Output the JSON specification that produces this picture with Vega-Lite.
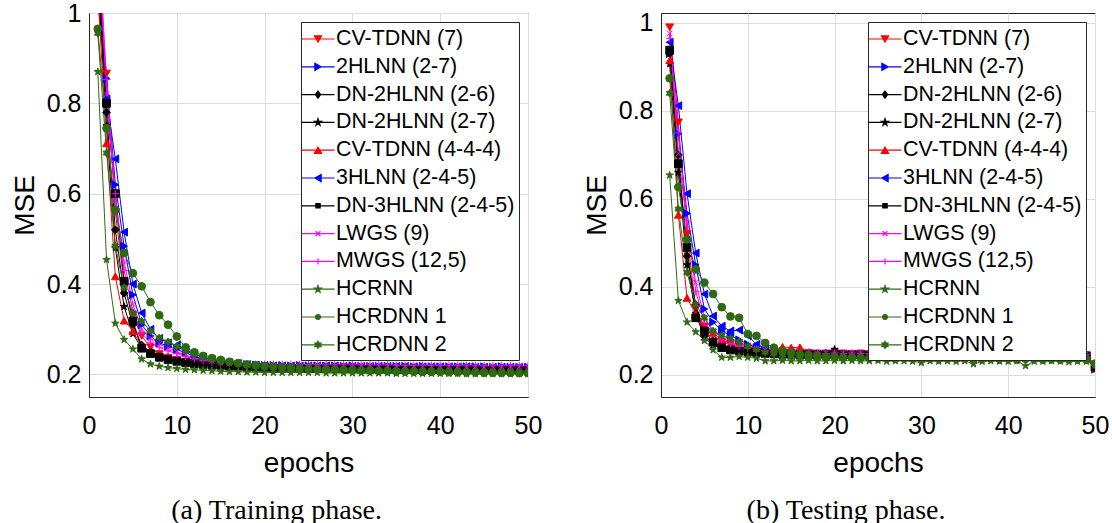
{
"$schema":"https://vega.github.io/schema/vega-lite/v6.json",
"background":"white",
"padding":{"left":10,"top":0,"right":0,"bottom":0},
"config":{
"view":{"stroke":"#262626","strokeWidth":1},
"axis":{"labelFont":"Liberation Sans","labelFontSize":25,"labelColor":"#000","titleFont":"Liberation Sans","titleFontSize":28,"titleFontWeight":"normal","titleColor":"#000","gridColor":"#dcdcdc","gridOpacity":1,"domainColor":"#262626","ticks":false},
"legend":{"title":null,"orient":"top-right","padding":4,"strokeColor":"#262626","fillColor":"white","labelFont":"Liberation Sans","labelFontSize":21.4,"labelColor":"#000","labelLimit":300,"labelOffset":5,"symbolSize":576,"symbolStrokeWidth":1.2,"symbolOpacity":1,"rowPadding":3.8}
},
"datasets":{
"train":[
{"m":"CV-TDNN (7)","e":1,"v":1.02},{"m":"CV-TDNN (7)","e":2,"v":0.866},{"m":"CV-TDNN (7)","e":3,"v":0.56},{"m":"CV-TDNN (7)","e":4,"v":0.4},{"m":"CV-TDNN (7)","e":5,"v":0.33},{"m":"CV-TDNN (7)","e":6,"v":0.285},{"m":"CV-TDNN (7)","e":7,"v":0.26},{"m":"CV-TDNN (7)","e":8,"v":0.245},{"m":"CV-TDNN (7)","e":9,"v":0.237},{"m":"CV-TDNN (7)","e":10,"v":0.232},
{"m":"CV-TDNN (7)","e":11,"v":0.228},{"m":"CV-TDNN (7)","e":12,"v":0.225},{"m":"CV-TDNN (7)","e":13,"v":0.222},{"m":"CV-TDNN (7)","e":14,"v":0.22},{"m":"CV-TDNN (7)","e":15,"v":0.218},{"m":"CV-TDNN (7)","e":16,"v":0.216},{"m":"CV-TDNN (7)","e":17,"v":0.215},{"m":"CV-TDNN (7)","e":18,"v":0.214},{"m":"CV-TDNN (7)","e":19,"v":0.213},{"m":"CV-TDNN (7)","e":20,"v":0.212},
{"m":"CV-TDNN (7)","e":21,"v":0.211},{"m":"CV-TDNN (7)","e":22,"v":0.211},{"m":"CV-TDNN (7)","e":23,"v":0.21},{"m":"CV-TDNN (7)","e":24,"v":0.21},{"m":"CV-TDNN (7)","e":25,"v":0.21},{"m":"CV-TDNN (7)","e":26,"v":0.21},{"m":"CV-TDNN (7)","e":27,"v":0.209},{"m":"CV-TDNN (7)","e":28,"v":0.209},{"m":"CV-TDNN (7)","e":29,"v":0.209},{"m":"CV-TDNN (7)","e":30,"v":0.209},
{"m":"CV-TDNN (7)","e":31,"v":0.209},{"m":"CV-TDNN (7)","e":32,"v":0.208},{"m":"CV-TDNN (7)","e":33,"v":0.208},{"m":"CV-TDNN (7)","e":34,"v":0.208},{"m":"CV-TDNN (7)","e":35,"v":0.208},{"m":"CV-TDNN (7)","e":36,"v":0.208},{"m":"CV-TDNN (7)","e":37,"v":0.208},{"m":"CV-TDNN (7)","e":38,"v":0.208},{"m":"CV-TDNN (7)","e":39,"v":0.207},{"m":"CV-TDNN (7)","e":40,"v":0.207},
{"m":"CV-TDNN (7)","e":41,"v":0.207},{"m":"CV-TDNN (7)","e":42,"v":0.207},{"m":"CV-TDNN (7)","e":43,"v":0.207},{"m":"CV-TDNN (7)","e":44,"v":0.207},{"m":"CV-TDNN (7)","e":45,"v":0.207},{"m":"CV-TDNN (7)","e":46,"v":0.207},{"m":"CV-TDNN (7)","e":47,"v":0.207},{"m":"CV-TDNN (7)","e":48,"v":0.206},{"m":"CV-TDNN (7)","e":49,"v":0.206},{"m":"CV-TDNN (7)","e":50,"v":0.206},
{"m":"2HLNN (2-7)","e":1,"v":1.1},{"m":"2HLNN (2-7)","e":2,"v":0.855},{"m":"2HLNN (2-7)","e":3,"v":0.62},{"m":"2HLNN (2-7)","e":4,"v":0.484},{"m":"2HLNN (2-7)","e":5,"v":0.376},{"m":"2HLNN (2-7)","e":6,"v":0.31},{"m":"2HLNN (2-7)","e":7,"v":0.285},{"m":"2HLNN (2-7)","e":8,"v":0.27},{"m":"2HLNN (2-7)","e":9,"v":0.262},{"m":"2HLNN (2-7)","e":10,"v":0.255},
{"m":"2HLNN (2-7)","e":11,"v":0.248},{"m":"2HLNN (2-7)","e":12,"v":0.24},{"m":"2HLNN (2-7)","e":13,"v":0.234},{"m":"2HLNN (2-7)","e":14,"v":0.23},{"m":"2HLNN (2-7)","e":15,"v":0.227},{"m":"2HLNN (2-7)","e":16,"v":0.225},{"m":"2HLNN (2-7)","e":17,"v":0.223},{"m":"2HLNN (2-7)","e":18,"v":0.222},{"m":"2HLNN (2-7)","e":19,"v":0.221},{"m":"2HLNN (2-7)","e":20,"v":0.22},
{"m":"2HLNN (2-7)","e":21,"v":0.22},{"m":"2HLNN (2-7)","e":22,"v":0.22},{"m":"2HLNN (2-7)","e":23,"v":0.219},{"m":"2HLNN (2-7)","e":24,"v":0.22},{"m":"2HLNN (2-7)","e":25,"v":0.219},{"m":"2HLNN (2-7)","e":26,"v":0.219},{"m":"2HLNN (2-7)","e":27,"v":0.219},{"m":"2HLNN (2-7)","e":28,"v":0.219},{"m":"2HLNN (2-7)","e":29,"v":0.218},{"m":"2HLNN (2-7)","e":30,"v":0.219},
{"m":"2HLNN (2-7)","e":31,"v":0.218},{"m":"2HLNN (2-7)","e":32,"v":0.218},{"m":"2HLNN (2-7)","e":33,"v":0.218},{"m":"2HLNN (2-7)","e":34,"v":0.218},{"m":"2HLNN (2-7)","e":35,"v":0.218},{"m":"2HLNN (2-7)","e":36,"v":0.218},{"m":"2HLNN (2-7)","e":37,"v":0.217},{"m":"2HLNN (2-7)","e":38,"v":0.218},{"m":"2HLNN (2-7)","e":39,"v":0.217},{"m":"2HLNN (2-7)","e":40,"v":0.217},
{"m":"2HLNN (2-7)","e":41,"v":0.217},{"m":"2HLNN (2-7)","e":42,"v":0.217},{"m":"2HLNN (2-7)","e":43,"v":0.217},{"m":"2HLNN (2-7)","e":44,"v":0.217},{"m":"2HLNN (2-7)","e":45,"v":0.217},{"m":"2HLNN (2-7)","e":46,"v":0.216},{"m":"2HLNN (2-7)","e":47,"v":0.217},{"m":"2HLNN (2-7)","e":48,"v":0.216},{"m":"2HLNN (2-7)","e":49,"v":0.216},{"m":"2HLNN (2-7)","e":50,"v":0.216},
{"m":"DN-2HLNN (2-6)","e":1,"v":1.1},{"m":"DN-2HLNN (2-6)","e":2,"v":0.78},{"m":"DN-2HLNN (2-6)","e":3,"v":0.52},{"m":"DN-2HLNN (2-6)","e":4,"v":0.38},{"m":"DN-2HLNN (2-6)","e":5,"v":0.31},{"m":"DN-2HLNN (2-6)","e":6,"v":0.265},{"m":"DN-2HLNN (2-6)","e":7,"v":0.25},{"m":"DN-2HLNN (2-6)","e":8,"v":0.24},{"m":"DN-2HLNN (2-6)","e":9,"v":0.234},{"m":"DN-2HLNN (2-6)","e":10,"v":0.23},
{"m":"DN-2HLNN (2-6)","e":11,"v":0.227},{"m":"DN-2HLNN (2-6)","e":12,"v":0.225},{"m":"DN-2HLNN (2-6)","e":13,"v":0.223},{"m":"DN-2HLNN (2-6)","e":14,"v":0.221},{"m":"DN-2HLNN (2-6)","e":15,"v":0.22},{"m":"DN-2HLNN (2-6)","e":16,"v":0.219},{"m":"DN-2HLNN (2-6)","e":17,"v":0.218},{"m":"DN-2HLNN (2-6)","e":18,"v":0.217},{"m":"DN-2HLNN (2-6)","e":19,"v":0.216},{"m":"DN-2HLNN (2-6)","e":20,"v":0.216},
{"m":"DN-2HLNN (2-6)","e":21,"v":0.215},{"m":"DN-2HLNN (2-6)","e":22,"v":0.215},{"m":"DN-2HLNN (2-6)","e":23,"v":0.215},{"m":"DN-2HLNN (2-6)","e":24,"v":0.215},{"m":"DN-2HLNN (2-6)","e":25,"v":0.215},{"m":"DN-2HLNN (2-6)","e":26,"v":0.214},{"m":"DN-2HLNN (2-6)","e":27,"v":0.214},{"m":"DN-2HLNN (2-6)","e":28,"v":0.214},{"m":"DN-2HLNN (2-6)","e":29,"v":0.214},{"m":"DN-2HLNN (2-6)","e":30,"v":0.214},
{"m":"DN-2HLNN (2-6)","e":31,"v":0.214},{"m":"DN-2HLNN (2-6)","e":32,"v":0.214},{"m":"DN-2HLNN (2-6)","e":33,"v":0.213},{"m":"DN-2HLNN (2-6)","e":34,"v":0.213},{"m":"DN-2HLNN (2-6)","e":35,"v":0.213},{"m":"DN-2HLNN (2-6)","e":36,"v":0.213},{"m":"DN-2HLNN (2-6)","e":37,"v":0.213},{"m":"DN-2HLNN (2-6)","e":38,"v":0.213},{"m":"DN-2HLNN (2-6)","e":39,"v":0.213},{"m":"DN-2HLNN (2-6)","e":40,"v":0.213},
{"m":"DN-2HLNN (2-6)","e":41,"v":0.213},{"m":"DN-2HLNN (2-6)","e":42,"v":0.212},{"m":"DN-2HLNN (2-6)","e":43,"v":0.212},{"m":"DN-2HLNN (2-6)","e":44,"v":0.212},{"m":"DN-2HLNN (2-6)","e":45,"v":0.212},{"m":"DN-2HLNN (2-6)","e":46,"v":0.212},{"m":"DN-2HLNN (2-6)","e":47,"v":0.212},{"m":"DN-2HLNN (2-6)","e":48,"v":0.212},{"m":"DN-2HLNN (2-6)","e":49,"v":0.212},{"m":"DN-2HLNN (2-6)","e":50,"v":0.212},
{"m":"DN-2HLNN (2-7)","e":1,"v":1.08},{"m":"DN-2HLNN (2-7)","e":2,"v":0.75},{"m":"DN-2HLNN (2-7)","e":3,"v":0.48},{"m":"DN-2HLNN (2-7)","e":4,"v":0.35},{"m":"DN-2HLNN (2-7)","e":5,"v":0.29},{"m":"DN-2HLNN (2-7)","e":6,"v":0.258},{"m":"DN-2HLNN (2-7)","e":7,"v":0.244},{"m":"DN-2HLNN (2-7)","e":8,"v":0.236},{"m":"DN-2HLNN (2-7)","e":9,"v":0.231},{"m":"DN-2HLNN (2-7)","e":10,"v":0.228},
{"m":"DN-2HLNN (2-7)","e":11,"v":0.225},{"m":"DN-2HLNN (2-7)","e":12,"v":0.223},{"m":"DN-2HLNN (2-7)","e":13,"v":0.221},{"m":"DN-2HLNN (2-7)","e":14,"v":0.22},{"m":"DN-2HLNN (2-7)","e":15,"v":0.219},{"m":"DN-2HLNN (2-7)","e":16,"v":0.218},{"m":"DN-2HLNN (2-7)","e":17,"v":0.217},{"m":"DN-2HLNN (2-7)","e":18,"v":0.216},{"m":"DN-2HLNN (2-7)","e":19,"v":0.215},{"m":"DN-2HLNN (2-7)","e":20,"v":0.215},
{"m":"DN-2HLNN (2-7)","e":21,"v":0.214},{"m":"DN-2HLNN (2-7)","e":22,"v":0.214},{"m":"DN-2HLNN (2-7)","e":23,"v":0.214},{"m":"DN-2HLNN (2-7)","e":24,"v":0.214},{"m":"DN-2HLNN (2-7)","e":25,"v":0.214},{"m":"DN-2HLNN (2-7)","e":26,"v":0.214},{"m":"DN-2HLNN (2-7)","e":27,"v":0.213},{"m":"DN-2HLNN (2-7)","e":28,"v":0.213},{"m":"DN-2HLNN (2-7)","e":29,"v":0.213},{"m":"DN-2HLNN (2-7)","e":30,"v":0.213},
{"m":"DN-2HLNN (2-7)","e":31,"v":0.213},{"m":"DN-2HLNN (2-7)","e":32,"v":0.213},{"m":"DN-2HLNN (2-7)","e":33,"v":0.213},{"m":"DN-2HLNN (2-7)","e":34,"v":0.213},{"m":"DN-2HLNN (2-7)","e":35,"v":0.212},{"m":"DN-2HLNN (2-7)","e":36,"v":0.212},{"m":"DN-2HLNN (2-7)","e":37,"v":0.212},{"m":"DN-2HLNN (2-7)","e":38,"v":0.212},{"m":"DN-2HLNN (2-7)","e":39,"v":0.212},{"m":"DN-2HLNN (2-7)","e":40,"v":0.212},
{"m":"DN-2HLNN (2-7)","e":41,"v":0.212},{"m":"DN-2HLNN (2-7)","e":42,"v":0.212},{"m":"DN-2HLNN (2-7)","e":43,"v":0.211},{"m":"DN-2HLNN (2-7)","e":44,"v":0.211},{"m":"DN-2HLNN (2-7)","e":45,"v":0.211},{"m":"DN-2HLNN (2-7)","e":46,"v":0.211},{"m":"DN-2HLNN (2-7)","e":47,"v":0.211},{"m":"DN-2HLNN (2-7)","e":48,"v":0.211},{"m":"DN-2HLNN (2-7)","e":49,"v":0.211},{"m":"DN-2HLNN (2-7)","e":50,"v":0.211},
{"m":"CV-TDNN (4-4-4)","e":1,"v":1.05},{"m":"CV-TDNN (4-4-4)","e":2,"v":0.712},{"m":"CV-TDNN (4-4-4)","e":3,"v":0.417},{"m":"CV-TDNN (4-4-4)","e":4,"v":0.319},{"m":"CV-TDNN (4-4-4)","e":5,"v":0.296},{"m":"CV-TDNN (4-4-4)","e":6,"v":0.262},{"m":"CV-TDNN (4-4-4)","e":7,"v":0.25},{"m":"CV-TDNN (4-4-4)","e":8,"v":0.244},{"m":"CV-TDNN (4-4-4)","e":9,"v":0.24},{"m":"CV-TDNN (4-4-4)","e":10,"v":0.236},
{"m":"CV-TDNN (4-4-4)","e":11,"v":0.232},{"m":"CV-TDNN (4-4-4)","e":12,"v":0.229},{"m":"CV-TDNN (4-4-4)","e":13,"v":0.226},{"m":"CV-TDNN (4-4-4)","e":14,"v":0.224},{"m":"CV-TDNN (4-4-4)","e":15,"v":0.222},{"m":"CV-TDNN (4-4-4)","e":16,"v":0.22},{"m":"CV-TDNN (4-4-4)","e":17,"v":0.219},{"m":"CV-TDNN (4-4-4)","e":18,"v":0.218},{"m":"CV-TDNN (4-4-4)","e":19,"v":0.217},{"m":"CV-TDNN (4-4-4)","e":20,"v":0.217},
{"m":"CV-TDNN (4-4-4)","e":21,"v":0.216},{"m":"CV-TDNN (4-4-4)","e":22,"v":0.216},{"m":"CV-TDNN (4-4-4)","e":23,"v":0.216},{"m":"CV-TDNN (4-4-4)","e":24,"v":0.216},{"m":"CV-TDNN (4-4-4)","e":25,"v":0.216},{"m":"CV-TDNN (4-4-4)","e":26,"v":0.216},{"m":"CV-TDNN (4-4-4)","e":27,"v":0.216},{"m":"CV-TDNN (4-4-4)","e":28,"v":0.216},{"m":"CV-TDNN (4-4-4)","e":29,"v":0.215},{"m":"CV-TDNN (4-4-4)","e":30,"v":0.215},
{"m":"CV-TDNN (4-4-4)","e":31,"v":0.215},{"m":"CV-TDNN (4-4-4)","e":32,"v":0.215},{"m":"CV-TDNN (4-4-4)","e":33,"v":0.215},{"m":"CV-TDNN (4-4-4)","e":34,"v":0.215},{"m":"CV-TDNN (4-4-4)","e":35,"v":0.215},{"m":"CV-TDNN (4-4-4)","e":36,"v":0.215},{"m":"CV-TDNN (4-4-4)","e":37,"v":0.214},{"m":"CV-TDNN (4-4-4)","e":38,"v":0.214},{"m":"CV-TDNN (4-4-4)","e":39,"v":0.214},{"m":"CV-TDNN (4-4-4)","e":40,"v":0.214},
{"m":"CV-TDNN (4-4-4)","e":41,"v":0.214},{"m":"CV-TDNN (4-4-4)","e":42,"v":0.214},{"m":"CV-TDNN (4-4-4)","e":43,"v":0.214},{"m":"CV-TDNN (4-4-4)","e":44,"v":0.213},{"m":"CV-TDNN (4-4-4)","e":45,"v":0.213},{"m":"CV-TDNN (4-4-4)","e":46,"v":0.213},{"m":"CV-TDNN (4-4-4)","e":47,"v":0.213},{"m":"CV-TDNN (4-4-4)","e":48,"v":0.213},{"m":"CV-TDNN (4-4-4)","e":49,"v":0.213},{"m":"CV-TDNN (4-4-4)","e":50,"v":0.213},
{"m":"3HLNN (2-4-5)","e":1,"v":1.15},{"m":"3HLNN (2-4-5)","e":2,"v":0.81},{"m":"3HLNN (2-4-5)","e":3,"v":0.677},{"m":"3HLNN (2-4-5)","e":4,"v":0.515},{"m":"3HLNN (2-4-5)","e":5,"v":0.4},{"m":"3HLNN (2-4-5)","e":6,"v":0.336},{"m":"3HLNN (2-4-5)","e":7,"v":0.3},{"m":"3HLNN (2-4-5)","e":8,"v":0.28},{"m":"3HLNN (2-4-5)","e":9,"v":0.27},{"m":"3HLNN (2-4-5)","e":10,"v":0.265},
{"m":"3HLNN (2-4-5)","e":11,"v":0.255},{"m":"3HLNN (2-4-5)","e":12,"v":0.245},{"m":"3HLNN (2-4-5)","e":13,"v":0.238},{"m":"3HLNN (2-4-5)","e":14,"v":0.233},{"m":"3HLNN (2-4-5)","e":15,"v":0.229},{"m":"3HLNN (2-4-5)","e":16,"v":0.226},{"m":"3HLNN (2-4-5)","e":17,"v":0.224},{"m":"3HLNN (2-4-5)","e":18,"v":0.222},{"m":"3HLNN (2-4-5)","e":19,"v":0.221},{"m":"3HLNN (2-4-5)","e":20,"v":0.22},
{"m":"3HLNN (2-4-5)","e":21,"v":0.219},{"m":"3HLNN (2-4-5)","e":22,"v":0.219},{"m":"3HLNN (2-4-5)","e":23,"v":0.219},{"m":"3HLNN (2-4-5)","e":24,"v":0.219},{"m":"3HLNN (2-4-5)","e":25,"v":0.219},{"m":"3HLNN (2-4-5)","e":26,"v":0.219},{"m":"3HLNN (2-4-5)","e":27,"v":0.219},{"m":"3HLNN (2-4-5)","e":28,"v":0.219},{"m":"3HLNN (2-4-5)","e":29,"v":0.218},{"m":"3HLNN (2-4-5)","e":30,"v":0.218},
{"m":"3HLNN (2-4-5)","e":31,"v":0.218},{"m":"3HLNN (2-4-5)","e":32,"v":0.218},{"m":"3HLNN (2-4-5)","e":33,"v":0.218},{"m":"3HLNN (2-4-5)","e":34,"v":0.218},{"m":"3HLNN (2-4-5)","e":35,"v":0.218},{"m":"3HLNN (2-4-5)","e":36,"v":0.218},{"m":"3HLNN (2-4-5)","e":37,"v":0.217},{"m":"3HLNN (2-4-5)","e":38,"v":0.217},{"m":"3HLNN (2-4-5)","e":39,"v":0.217},{"m":"3HLNN (2-4-5)","e":40,"v":0.217},
{"m":"3HLNN (2-4-5)","e":41,"v":0.217},{"m":"3HLNN (2-4-5)","e":42,"v":0.217},{"m":"3HLNN (2-4-5)","e":43,"v":0.217},{"m":"3HLNN (2-4-5)","e":44,"v":0.216},{"m":"3HLNN (2-4-5)","e":45,"v":0.216},{"m":"3HLNN (2-4-5)","e":46,"v":0.216},{"m":"3HLNN (2-4-5)","e":47,"v":0.216},{"m":"3HLNN (2-4-5)","e":48,"v":0.216},{"m":"3HLNN (2-4-5)","e":49,"v":0.216},{"m":"3HLNN (2-4-5)","e":50,"v":0.216},
{"m":"DN-3HLNN (2-4-5)","e":1,"v":1.12},{"m":"DN-3HLNN (2-4-5)","e":2,"v":0.8},{"m":"DN-3HLNN (2-4-5)","e":3,"v":0.6},{"m":"DN-3HLNN (2-4-5)","e":4,"v":0.406},{"m":"DN-3HLNN (2-4-5)","e":5,"v":0.318},{"m":"DN-3HLNN (2-4-5)","e":6,"v":0.258},{"m":"DN-3HLNN (2-4-5)","e":7,"v":0.246},{"m":"DN-3HLNN (2-4-5)","e":8,"v":0.238},{"m":"DN-3HLNN (2-4-5)","e":9,"v":0.233},{"m":"DN-3HLNN (2-4-5)","e":10,"v":0.229},
{"m":"DN-3HLNN (2-4-5)","e":11,"v":0.226},{"m":"DN-3HLNN (2-4-5)","e":12,"v":0.224},{"m":"DN-3HLNN (2-4-5)","e":13,"v":0.222},{"m":"DN-3HLNN (2-4-5)","e":14,"v":0.221},{"m":"DN-3HLNN (2-4-5)","e":15,"v":0.22},{"m":"DN-3HLNN (2-4-5)","e":16,"v":0.218},{"m":"DN-3HLNN (2-4-5)","e":17,"v":0.217},{"m":"DN-3HLNN (2-4-5)","e":18,"v":0.216},{"m":"DN-3HLNN (2-4-5)","e":19,"v":0.215},{"m":"DN-3HLNN (2-4-5)","e":20,"v":0.215},
{"m":"DN-3HLNN (2-4-5)","e":21,"v":0.214},{"m":"DN-3HLNN (2-4-5)","e":22,"v":0.214},{"m":"DN-3HLNN (2-4-5)","e":23,"v":0.214},{"m":"DN-3HLNN (2-4-5)","e":24,"v":0.214},{"m":"DN-3HLNN (2-4-5)","e":25,"v":0.213},{"m":"DN-3HLNN (2-4-5)","e":26,"v":0.213},{"m":"DN-3HLNN (2-4-5)","e":27,"v":0.213},{"m":"DN-3HLNN (2-4-5)","e":28,"v":0.213},{"m":"DN-3HLNN (2-4-5)","e":29,"v":0.213},{"m":"DN-3HLNN (2-4-5)","e":30,"v":0.213},
{"m":"DN-3HLNN (2-4-5)","e":31,"v":0.212},{"m":"DN-3HLNN (2-4-5)","e":32,"v":0.212},{"m":"DN-3HLNN (2-4-5)","e":33,"v":0.212},{"m":"DN-3HLNN (2-4-5)","e":34,"v":0.212},{"m":"DN-3HLNN (2-4-5)","e":35,"v":0.212},{"m":"DN-3HLNN (2-4-5)","e":36,"v":0.212},{"m":"DN-3HLNN (2-4-5)","e":37,"v":0.212},{"m":"DN-3HLNN (2-4-5)","e":38,"v":0.211},{"m":"DN-3HLNN (2-4-5)","e":39,"v":0.211},{"m":"DN-3HLNN (2-4-5)","e":40,"v":0.211},
{"m":"DN-3HLNN (2-4-5)","e":41,"v":0.211},{"m":"DN-3HLNN (2-4-5)","e":42,"v":0.211},{"m":"DN-3HLNN (2-4-5)","e":43,"v":0.211},{"m":"DN-3HLNN (2-4-5)","e":44,"v":0.211},{"m":"DN-3HLNN (2-4-5)","e":45,"v":0.21},{"m":"DN-3HLNN (2-4-5)","e":46,"v":0.21},{"m":"DN-3HLNN (2-4-5)","e":47,"v":0.21},{"m":"DN-3HLNN (2-4-5)","e":48,"v":0.21},{"m":"DN-3HLNN (2-4-5)","e":49,"v":0.21},{"m":"DN-3HLNN (2-4-5)","e":50,"v":0.21},
{"m":"LWGS (9)","e":1,"v":1.17},{"m":"LWGS (9)","e":2,"v":0.82},{"m":"LWGS (9)","e":3,"v":0.585},{"m":"LWGS (9)","e":4,"v":0.45},{"m":"LWGS (9)","e":5,"v":0.355},{"m":"LWGS (9)","e":6,"v":0.3},{"m":"LWGS (9)","e":7,"v":0.28},{"m":"LWGS (9)","e":8,"v":0.268},{"m":"LWGS (9)","e":9,"v":0.258},{"m":"LWGS (9)","e":10,"v":0.25},
{"m":"LWGS (9)","e":11,"v":0.243},{"m":"LWGS (9)","e":12,"v":0.237},{"m":"LWGS (9)","e":13,"v":0.233},{"m":"LWGS (9)","e":14,"v":0.229},{"m":"LWGS (9)","e":15,"v":0.226},{"m":"LWGS (9)","e":16,"v":0.224},{"m":"LWGS (9)","e":17,"v":0.223},{"m":"LWGS (9)","e":18,"v":0.222},{"m":"LWGS (9)","e":19,"v":0.221},{"m":"LWGS (9)","e":20,"v":0.22},
{"m":"LWGS (9)","e":21,"v":0.22},{"m":"LWGS (9)","e":22,"v":0.22},{"m":"LWGS (9)","e":23,"v":0.22},{"m":"LWGS (9)","e":24,"v":0.22},{"m":"LWGS (9)","e":25,"v":0.22},{"m":"LWGS (9)","e":26,"v":0.22},{"m":"LWGS (9)","e":27,"v":0.219},{"m":"LWGS (9)","e":28,"v":0.219},{"m":"LWGS (9)","e":29,"v":0.219},{"m":"LWGS (9)","e":30,"v":0.219},
{"m":"LWGS (9)","e":31,"v":0.219},{"m":"LWGS (9)","e":32,"v":0.219},{"m":"LWGS (9)","e":33,"v":0.219},{"m":"LWGS (9)","e":34,"v":0.219},{"m":"LWGS (9)","e":35,"v":0.218},{"m":"LWGS (9)","e":36,"v":0.218},{"m":"LWGS (9)","e":37,"v":0.218},{"m":"LWGS (9)","e":38,"v":0.218},{"m":"LWGS (9)","e":39,"v":0.218},{"m":"LWGS (9)","e":40,"v":0.218},
{"m":"LWGS (9)","e":41,"v":0.218},{"m":"LWGS (9)","e":42,"v":0.218},{"m":"LWGS (9)","e":43,"v":0.217},{"m":"LWGS (9)","e":44,"v":0.217},{"m":"LWGS (9)","e":45,"v":0.217},{"m":"LWGS (9)","e":46,"v":0.217},{"m":"LWGS (9)","e":47,"v":0.217},{"m":"LWGS (9)","e":48,"v":0.217},{"m":"LWGS (9)","e":49,"v":0.217},{"m":"LWGS (9)","e":50,"v":0.217},
{"m":"MWGS (12,5)","e":1,"v":1.2},{"m":"MWGS (12,5)","e":2,"v":0.853},{"m":"MWGS (12,5)","e":3,"v":0.6},{"m":"MWGS (12,5)","e":4,"v":0.43},{"m":"MWGS (12,5)","e":5,"v":0.34},{"m":"MWGS (12,5)","e":6,"v":0.29},{"m":"MWGS (12,5)","e":7,"v":0.27},{"m":"MWGS (12,5)","e":8,"v":0.26},{"m":"MWGS (12,5)","e":9,"v":0.252},{"m":"MWGS (12,5)","e":10,"v":0.246},
{"m":"MWGS (12,5)","e":11,"v":0.24},{"m":"MWGS (12,5)","e":12,"v":0.235},{"m":"MWGS (12,5)","e":13,"v":0.231},{"m":"MWGS (12,5)","e":14,"v":0.228},{"m":"MWGS (12,5)","e":15,"v":0.226},{"m":"MWGS (12,5)","e":16,"v":0.225},{"m":"MWGS (12,5)","e":17,"v":0.224},{"m":"MWGS (12,5)","e":18,"v":0.223},{"m":"MWGS (12,5)","e":19,"v":0.222},{"m":"MWGS (12,5)","e":20,"v":0.222},
{"m":"MWGS (12,5)","e":21,"v":0.222},{"m":"MWGS (12,5)","e":22,"v":0.222},{"m":"MWGS (12,5)","e":23,"v":0.222},{"m":"MWGS (12,5)","e":24,"v":0.222},{"m":"MWGS (12,5)","e":25,"v":0.222},{"m":"MWGS (12,5)","e":26,"v":0.222},{"m":"MWGS (12,5)","e":27,"v":0.221},{"m":"MWGS (12,5)","e":28,"v":0.221},{"m":"MWGS (12,5)","e":29,"v":0.221},{"m":"MWGS (12,5)","e":30,"v":0.221},
{"m":"MWGS (12,5)","e":31,"v":0.221},{"m":"MWGS (12,5)","e":32,"v":0.221},{"m":"MWGS (12,5)","e":33,"v":0.221},{"m":"MWGS (12,5)","e":34,"v":0.221},{"m":"MWGS (12,5)","e":35,"v":0.22},{"m":"MWGS (12,5)","e":36,"v":0.22},{"m":"MWGS (12,5)","e":37,"v":0.22},{"m":"MWGS (12,5)","e":38,"v":0.22},{"m":"MWGS (12,5)","e":39,"v":0.22},{"m":"MWGS (12,5)","e":40,"v":0.22},
{"m":"MWGS (12,5)","e":41,"v":0.22},{"m":"MWGS (12,5)","e":42,"v":0.22},{"m":"MWGS (12,5)","e":43,"v":0.219},{"m":"MWGS (12,5)","e":44,"v":0.219},{"m":"MWGS (12,5)","e":45,"v":0.219},{"m":"MWGS (12,5)","e":46,"v":0.219},{"m":"MWGS (12,5)","e":47,"v":0.219},{"m":"MWGS (12,5)","e":48,"v":0.219},{"m":"MWGS (12,5)","e":49,"v":0.219},{"m":"MWGS (12,5)","e":50,"v":0.219},
{"m":"HCRNN","e":1,"v":0.87},{"m":"HCRNN","e":2,"v":0.454},{"m":"HCRNN","e":3,"v":0.313},{"m":"HCRNN","e":4,"v":0.277},{"m":"HCRNN","e":5,"v":0.256},{"m":"HCRNN","e":6,"v":0.234},{"m":"HCRNN","e":7,"v":0.223},{"m":"HCRNN","e":8,"v":0.218},{"m":"HCRNN","e":9,"v":0.215},{"m":"HCRNN","e":10,"v":0.213},
{"m":"HCRNN","e":11,"v":0.211},{"m":"HCRNN","e":12,"v":0.21},{"m":"HCRNN","e":13,"v":0.209},{"m":"HCRNN","e":14,"v":0.208},{"m":"HCRNN","e":15,"v":0.207},{"m":"HCRNN","e":16,"v":0.206},{"m":"HCRNN","e":17,"v":0.206},{"m":"HCRNN","e":18,"v":0.205},{"m":"HCRNN","e":19,"v":0.205},{"m":"HCRNN","e":20,"v":0.204},
{"m":"HCRNN","e":21,"v":0.204},{"m":"HCRNN","e":22,"v":0.204},{"m":"HCRNN","e":23,"v":0.204},{"m":"HCRNN","e":24,"v":0.204},{"m":"HCRNN","e":25,"v":0.204},{"m":"HCRNN","e":26,"v":0.204},{"m":"HCRNN","e":27,"v":0.203},{"m":"HCRNN","e":28,"v":0.203},{"m":"HCRNN","e":29,"v":0.203},{"m":"HCRNN","e":30,"v":0.203},
{"m":"HCRNN","e":31,"v":0.203},{"m":"HCRNN","e":32,"v":0.203},{"m":"HCRNN","e":33,"v":0.203},{"m":"HCRNN","e":34,"v":0.203},{"m":"HCRNN","e":35,"v":0.202},{"m":"HCRNN","e":36,"v":0.202},{"m":"HCRNN","e":37,"v":0.202},{"m":"HCRNN","e":38,"v":0.202},{"m":"HCRNN","e":39,"v":0.202},{"m":"HCRNN","e":40,"v":0.202},
{"m":"HCRNN","e":41,"v":0.202},{"m":"HCRNN","e":42,"v":0.202},{"m":"HCRNN","e":43,"v":0.201},{"m":"HCRNN","e":44,"v":0.201},{"m":"HCRNN","e":45,"v":0.201},{"m":"HCRNN","e":46,"v":0.201},{"m":"HCRNN","e":47,"v":0.201},{"m":"HCRNN","e":48,"v":0.201},{"m":"HCRNN","e":49,"v":0.201},{"m":"HCRNN","e":50,"v":0.201},
{"m":"HCRDNN 1","e":1,"v":0.965},{"m":"HCRDNN 1","e":2,"v":0.745},{"m":"HCRDNN 1","e":3,"v":0.564},{"m":"HCRDNN 1","e":4,"v":0.469},{"m":"HCRDNN 1","e":5,"v":0.424},{"m":"HCRDNN 1","e":6,"v":0.395},{"m":"HCRDNN 1","e":7,"v":0.36},{"m":"HCRDNN 1","e":8,"v":0.331},{"m":"HCRDNN 1","e":9,"v":0.31},{"m":"HCRDNN 1","e":10,"v":0.284},
{"m":"HCRDNN 1","e":11,"v":0.26},{"m":"HCRDNN 1","e":12,"v":0.249},{"m":"HCRDNN 1","e":13,"v":0.241},{"m":"HCRDNN 1","e":14,"v":0.236},{"m":"HCRDNN 1","e":15,"v":0.232},{"m":"HCRDNN 1","e":16,"v":0.228},{"m":"HCRDNN 1","e":17,"v":0.225},{"m":"HCRDNN 1","e":18,"v":0.222},{"m":"HCRDNN 1","e":19,"v":0.22},{"m":"HCRDNN 1","e":20,"v":0.218},
{"m":"HCRDNN 1","e":21,"v":0.217},{"m":"HCRDNN 1","e":22,"v":0.216},{"m":"HCRDNN 1","e":23,"v":0.215},{"m":"HCRDNN 1","e":24,"v":0.214},{"m":"HCRDNN 1","e":25,"v":0.213},{"m":"HCRDNN 1","e":26,"v":0.212},{"m":"HCRDNN 1","e":27,"v":0.211},{"m":"HCRDNN 1","e":28,"v":0.211},{"m":"HCRDNN 1","e":29,"v":0.21},{"m":"HCRDNN 1","e":30,"v":0.21},
{"m":"HCRDNN 1","e":31,"v":0.209},{"m":"HCRDNN 1","e":32,"v":0.209},{"m":"HCRDNN 1","e":33,"v":0.208},{"m":"HCRDNN 1","e":34,"v":0.208},{"m":"HCRDNN 1","e":35,"v":0.207},{"m":"HCRDNN 1","e":36,"v":0.207},{"m":"HCRDNN 1","e":37,"v":0.207},{"m":"HCRDNN 1","e":38,"v":0.206},{"m":"HCRDNN 1","e":39,"v":0.206},{"m":"HCRDNN 1","e":40,"v":0.206},
{"m":"HCRDNN 1","e":41,"v":0.205},{"m":"HCRDNN 1","e":42,"v":0.205},{"m":"HCRDNN 1","e":43,"v":0.205},{"m":"HCRDNN 1","e":44,"v":0.205},{"m":"HCRDNN 1","e":45,"v":0.204},{"m":"HCRDNN 1","e":46,"v":0.204},{"m":"HCRDNN 1","e":47,"v":0.204},{"m":"HCRDNN 1","e":48,"v":0.204},{"m":"HCRDNN 1","e":49,"v":0.203},{"m":"HCRDNN 1","e":50,"v":0.203},
{"m":"HCRDNN 2","e":1,"v":0.955},{"m":"HCRDNN 2","e":2,"v":0.69},{"m":"HCRDNN 2","e":3,"v":0.484},{"m":"HCRDNN 2","e":4,"v":0.392},{"m":"HCRDNN 2","e":5,"v":0.336},{"m":"HCRDNN 2","e":6,"v":0.318},{"m":"HCRDNN 2","e":7,"v":0.296},{"m":"HCRDNN 2","e":8,"v":0.281},{"m":"HCRDNN 2","e":9,"v":0.272},{"m":"HCRDNN 2","e":10,"v":0.262},
{"m":"HCRDNN 2","e":11,"v":0.252},{"m":"HCRDNN 2","e":12,"v":0.244},{"m":"HCRDNN 2","e":13,"v":0.238},{"m":"HCRDNN 2","e":14,"v":0.233},{"m":"HCRDNN 2","e":15,"v":0.229},{"m":"HCRDNN 2","e":16,"v":0.226},{"m":"HCRDNN 2","e":17,"v":0.223},{"m":"HCRDNN 2","e":18,"v":0.22},{"m":"HCRDNN 2","e":19,"v":0.218},{"m":"HCRDNN 2","e":20,"v":0.216},
{"m":"HCRDNN 2","e":21,"v":0.215},{"m":"HCRDNN 2","e":22,"v":0.214},{"m":"HCRDNN 2","e":23,"v":0.213},{"m":"HCRDNN 2","e":24,"v":0.212},{"m":"HCRDNN 2","e":25,"v":0.211},{"m":"HCRDNN 2","e":26,"v":0.21},{"m":"HCRDNN 2","e":27,"v":0.21},{"m":"HCRDNN 2","e":28,"v":0.209},{"m":"HCRDNN 2","e":29,"v":0.209},{"m":"HCRDNN 2","e":30,"v":0.208},
{"m":"HCRDNN 2","e":31,"v":0.208},{"m":"HCRDNN 2","e":32,"v":0.207},{"m":"HCRDNN 2","e":33,"v":0.207},{"m":"HCRDNN 2","e":34,"v":0.207},{"m":"HCRDNN 2","e":35,"v":0.206},{"m":"HCRDNN 2","e":36,"v":0.206},{"m":"HCRDNN 2","e":37,"v":0.206},{"m":"HCRDNN 2","e":38,"v":0.205},{"m":"HCRDNN 2","e":39,"v":0.205},{"m":"HCRDNN 2","e":40,"v":0.205},
{"m":"HCRDNN 2","e":41,"v":0.205},{"m":"HCRDNN 2","e":42,"v":0.204},{"m":"HCRDNN 2","e":43,"v":0.204},{"m":"HCRDNN 2","e":44,"v":0.204},{"m":"HCRDNN 2","e":45,"v":0.204},{"m":"HCRDNN 2","e":46,"v":0.203},{"m":"HCRDNN 2","e":47,"v":0.203},{"m":"HCRDNN 2","e":48,"v":0.203},{"m":"HCRDNN 2","e":49,"v":0.203},{"m":"HCRDNN 2","e":50,"v":0.203}
],
"test":[
{"m":"CV-TDNN (7)","e":1,"v":0.99},{"m":"CV-TDNN (7)","e":2,"v":0.774},{"m":"CV-TDNN (7)","e":3,"v":0.52},{"m":"CV-TDNN (7)","e":4,"v":0.35},{"m":"CV-TDNN (7)","e":5,"v":0.31},{"m":"CV-TDNN (7)","e":6,"v":0.29},{"m":"CV-TDNN (7)","e":7,"v":0.275},{"m":"CV-TDNN (7)","e":8,"v":0.27},{"m":"CV-TDNN (7)","e":9,"v":0.265},{"m":"CV-TDNN (7)","e":10,"v":0.26},
{"m":"CV-TDNN (7)","e":11,"v":0.257},{"m":"CV-TDNN (7)","e":12,"v":0.255},{"m":"CV-TDNN (7)","e":13,"v":0.253},{"m":"CV-TDNN (7)","e":14,"v":0.252},{"m":"CV-TDNN (7)","e":15,"v":0.251},{"m":"CV-TDNN (7)","e":16,"v":0.25},{"m":"CV-TDNN (7)","e":17,"v":0.25},{"m":"CV-TDNN (7)","e":18,"v":0.249},{"m":"CV-TDNN (7)","e":19,"v":0.249},{"m":"CV-TDNN (7)","e":20,"v":0.25},
{"m":"CV-TDNN (7)","e":21,"v":0.249},{"m":"CV-TDNN (7)","e":22,"v":0.248},{"m":"CV-TDNN (7)","e":23,"v":0.249},{"m":"CV-TDNN (7)","e":24,"v":0.248},{"m":"CV-TDNN (7)","e":25,"v":0.249},{"m":"CV-TDNN (7)","e":26,"v":0.248},{"m":"CV-TDNN (7)","e":27,"v":0.248},{"m":"CV-TDNN (7)","e":28,"v":0.249},{"m":"CV-TDNN (7)","e":29,"v":0.247},{"m":"CV-TDNN (7)","e":30,"v":0.248},
{"m":"CV-TDNN (7)","e":31,"v":0.247},{"m":"CV-TDNN (7)","e":32,"v":0.248},{"m":"CV-TDNN (7)","e":33,"v":0.247},{"m":"CV-TDNN (7)","e":34,"v":0.247},{"m":"CV-TDNN (7)","e":35,"v":0.248},{"m":"CV-TDNN (7)","e":36,"v":0.246},{"m":"CV-TDNN (7)","e":37,"v":0.247},{"m":"CV-TDNN (7)","e":38,"v":0.247},{"m":"CV-TDNN (7)","e":39,"v":0.246},{"m":"CV-TDNN (7)","e":40,"v":0.247},
{"m":"CV-TDNN (7)","e":41,"v":0.246},{"m":"CV-TDNN (7)","e":42,"v":0.247},{"m":"CV-TDNN (7)","e":43,"v":0.246},{"m":"CV-TDNN (7)","e":44,"v":0.246},{"m":"CV-TDNN (7)","e":45,"v":0.247},{"m":"CV-TDNN (7)","e":46,"v":0.245},{"m":"CV-TDNN (7)","e":47,"v":0.246},{"m":"CV-TDNN (7)","e":48,"v":0.246},{"m":"CV-TDNN (7)","e":49,"v":0.245},{"m":"CV-TDNN (7)","e":50,"v":0.214},
{"m":"2HLNN (2-7)","e":1,"v":0.93},{"m":"2HLNN (2-7)","e":2,"v":0.748},{"m":"2HLNN (2-7)","e":3,"v":0.567},{"m":"2HLNN (2-7)","e":4,"v":0.45},{"m":"2HLNN (2-7)","e":5,"v":0.35},{"m":"2HLNN (2-7)","e":6,"v":0.32},{"m":"2HLNN (2-7)","e":7,"v":0.3},{"m":"2HLNN (2-7)","e":8,"v":0.29},{"m":"2HLNN (2-7)","e":9,"v":0.28},{"m":"2HLNN (2-7)","e":10,"v":0.27},
{"m":"2HLNN (2-7)","e":11,"v":0.262},{"m":"2HLNN (2-7)","e":12,"v":0.256},{"m":"2HLNN (2-7)","e":13,"v":0.252},{"m":"2HLNN (2-7)","e":14,"v":0.25},{"m":"2HLNN (2-7)","e":15,"v":0.249},{"m":"2HLNN (2-7)","e":16,"v":0.248},{"m":"2HLNN (2-7)","e":17,"v":0.247},{"m":"2HLNN (2-7)","e":18,"v":0.247},{"m":"2HLNN (2-7)","e":19,"v":0.246},{"m":"2HLNN (2-7)","e":20,"v":0.247},
{"m":"2HLNN (2-7)","e":21,"v":0.246},{"m":"2HLNN (2-7)","e":22,"v":0.247},{"m":"2HLNN (2-7)","e":23,"v":0.246},{"m":"2HLNN (2-7)","e":24,"v":0.245},{"m":"2HLNN (2-7)","e":25,"v":0.246},{"m":"2HLNN (2-7)","e":26,"v":0.246},{"m":"2HLNN (2-7)","e":27,"v":0.245},{"m":"2HLNN (2-7)","e":28,"v":0.246},{"m":"2HLNN (2-7)","e":29,"v":0.245},{"m":"2HLNN (2-7)","e":30,"v":0.246},
{"m":"2HLNN (2-7)","e":31,"v":0.245},{"m":"2HLNN (2-7)","e":32,"v":0.245},{"m":"2HLNN (2-7)","e":33,"v":0.246},{"m":"2HLNN (2-7)","e":34,"v":0.245},{"m":"2HLNN (2-7)","e":35,"v":0.244},{"m":"2HLNN (2-7)","e":36,"v":0.245},{"m":"2HLNN (2-7)","e":37,"v":0.245},{"m":"2HLNN (2-7)","e":38,"v":0.244},{"m":"2HLNN (2-7)","e":39,"v":0.245},{"m":"2HLNN (2-7)","e":40,"v":0.244},
{"m":"2HLNN (2-7)","e":41,"v":0.245},{"m":"2HLNN (2-7)","e":42,"v":0.244},{"m":"2HLNN (2-7)","e":43,"v":0.244},{"m":"2HLNN (2-7)","e":44,"v":0.245},{"m":"2HLNN (2-7)","e":45,"v":0.244},{"m":"2HLNN (2-7)","e":46,"v":0.244},{"m":"2HLNN (2-7)","e":47,"v":0.243},{"m":"2HLNN (2-7)","e":48,"v":0.244},{"m":"2HLNN (2-7)","e":49,"v":0.244},{"m":"2HLNN (2-7)","e":50,"v":0.213},
{"m":"DN-2HLNN (2-6)","e":1,"v":0.93},{"m":"DN-2HLNN (2-6)","e":2,"v":0.7},{"m":"DN-2HLNN (2-6)","e":3,"v":0.47},{"m":"DN-2HLNN (2-6)","e":4,"v":0.36},{"m":"DN-2HLNN (2-6)","e":5,"v":0.29},{"m":"DN-2HLNN (2-6)","e":6,"v":0.272},{"m":"DN-2HLNN (2-6)","e":7,"v":0.263},{"m":"DN-2HLNN (2-6)","e":8,"v":0.258},{"m":"DN-2HLNN (2-6)","e":9,"v":0.256},{"m":"DN-2HLNN (2-6)","e":10,"v":0.254},
{"m":"DN-2HLNN (2-6)","e":11,"v":0.252},{"m":"DN-2HLNN (2-6)","e":12,"v":0.25},{"m":"DN-2HLNN (2-6)","e":13,"v":0.249},{"m":"DN-2HLNN (2-6)","e":14,"v":0.248},{"m":"DN-2HLNN (2-6)","e":15,"v":0.248},{"m":"DN-2HLNN (2-6)","e":16,"v":0.247},{"m":"DN-2HLNN (2-6)","e":17,"v":0.247},{"m":"DN-2HLNN (2-6)","e":18,"v":0.247},{"m":"DN-2HLNN (2-6)","e":19,"v":0.248},{"m":"DN-2HLNN (2-6)","e":20,"v":0.252},
{"m":"DN-2HLNN (2-6)","e":21,"v":0.247},{"m":"DN-2HLNN (2-6)","e":22,"v":0.246},{"m":"DN-2HLNN (2-6)","e":23,"v":0.247},{"m":"DN-2HLNN (2-6)","e":24,"v":0.246},{"m":"DN-2HLNN (2-6)","e":25,"v":0.247},{"m":"DN-2HLNN (2-6)","e":26,"v":0.246},{"m":"DN-2HLNN (2-6)","e":27,"v":0.247},{"m":"DN-2HLNN (2-6)","e":28,"v":0.246},{"m":"DN-2HLNN (2-6)","e":29,"v":0.246},{"m":"DN-2HLNN (2-6)","e":30,"v":0.247},
{"m":"DN-2HLNN (2-6)","e":31,"v":0.246},{"m":"DN-2HLNN (2-6)","e":32,"v":0.246},{"m":"DN-2HLNN (2-6)","e":33,"v":0.245},{"m":"DN-2HLNN (2-6)","e":34,"v":0.246},{"m":"DN-2HLNN (2-6)","e":35,"v":0.246},{"m":"DN-2HLNN (2-6)","e":36,"v":0.245},{"m":"DN-2HLNN (2-6)","e":37,"v":0.246},{"m":"DN-2HLNN (2-6)","e":38,"v":0.245},{"m":"DN-2HLNN (2-6)","e":39,"v":0.246},{"m":"DN-2HLNN (2-6)","e":40,"v":0.245},
{"m":"DN-2HLNN (2-6)","e":41,"v":0.245},{"m":"DN-2HLNN (2-6)","e":42,"v":0.246},{"m":"DN-2HLNN (2-6)","e":43,"v":0.245},{"m":"DN-2HLNN (2-6)","e":44,"v":0.245},{"m":"DN-2HLNN (2-6)","e":45,"v":0.246},{"m":"DN-2HLNN (2-6)","e":46,"v":0.245},{"m":"DN-2HLNN (2-6)","e":47,"v":0.247},{"m":"DN-2HLNN (2-6)","e":48,"v":0.245},{"m":"DN-2HLNN (2-6)","e":49,"v":0.245},{"m":"DN-2HLNN (2-6)","e":50,"v":0.22},
{"m":"DN-2HLNN (2-7)","e":1,"v":0.907},{"m":"DN-2HLNN (2-7)","e":2,"v":0.66},{"m":"DN-2HLNN (2-7)","e":3,"v":0.45},{"m":"DN-2HLNN (2-7)","e":4,"v":0.34},{"m":"DN-2HLNN (2-7)","e":5,"v":0.285},{"m":"DN-2HLNN (2-7)","e":6,"v":0.268},{"m":"DN-2HLNN (2-7)","e":7,"v":0.26},{"m":"DN-2HLNN (2-7)","e":8,"v":0.256},{"m":"DN-2HLNN (2-7)","e":9,"v":0.254},{"m":"DN-2HLNN (2-7)","e":10,"v":0.252},
{"m":"DN-2HLNN (2-7)","e":11,"v":0.25},{"m":"DN-2HLNN (2-7)","e":12,"v":0.249},{"m":"DN-2HLNN (2-7)","e":13,"v":0.248},{"m":"DN-2HLNN (2-7)","e":14,"v":0.247},{"m":"DN-2HLNN (2-7)","e":15,"v":0.247},{"m":"DN-2HLNN (2-7)","e":16,"v":0.246},{"m":"DN-2HLNN (2-7)","e":17,"v":0.246},{"m":"DN-2HLNN (2-7)","e":18,"v":0.247},{"m":"DN-2HLNN (2-7)","e":19,"v":0.249},{"m":"DN-2HLNN (2-7)","e":20,"v":0.258},
{"m":"DN-2HLNN (2-7)","e":21,"v":0.248},{"m":"DN-2HLNN (2-7)","e":22,"v":0.247},{"m":"DN-2HLNN (2-7)","e":23,"v":0.246},{"m":"DN-2HLNN (2-7)","e":24,"v":0.247},{"m":"DN-2HLNN (2-7)","e":25,"v":0.246},{"m":"DN-2HLNN (2-7)","e":26,"v":0.246},{"m":"DN-2HLNN (2-7)","e":27,"v":0.247},{"m":"DN-2HLNN (2-7)","e":28,"v":0.246},{"m":"DN-2HLNN (2-7)","e":29,"v":0.245},{"m":"DN-2HLNN (2-7)","e":30,"v":0.246},
{"m":"DN-2HLNN (2-7)","e":31,"v":0.246},{"m":"DN-2HLNN (2-7)","e":32,"v":0.245},{"m":"DN-2HLNN (2-7)","e":33,"v":0.246},{"m":"DN-2HLNN (2-7)","e":34,"v":0.245},{"m":"DN-2HLNN (2-7)","e":35,"v":0.245},{"m":"DN-2HLNN (2-7)","e":36,"v":0.246},{"m":"DN-2HLNN (2-7)","e":37,"v":0.245},{"m":"DN-2HLNN (2-7)","e":38,"v":0.245},{"m":"DN-2HLNN (2-7)","e":39,"v":0.244},{"m":"DN-2HLNN (2-7)","e":40,"v":0.245},
{"m":"DN-2HLNN (2-7)","e":41,"v":0.245},{"m":"DN-2HLNN (2-7)","e":42,"v":0.244},{"m":"DN-2HLNN (2-7)","e":43,"v":0.245},{"m":"DN-2HLNN (2-7)","e":44,"v":0.245},{"m":"DN-2HLNN (2-7)","e":45,"v":0.244},{"m":"DN-2HLNN (2-7)","e":46,"v":0.248},{"m":"DN-2HLNN (2-7)","e":47,"v":0.245},{"m":"DN-2HLNN (2-7)","e":48,"v":0.244},{"m":"DN-2HLNN (2-7)","e":49,"v":0.246},{"m":"DN-2HLNN (2-7)","e":50,"v":0.219},
{"m":"CV-TDNN (4-4-4)","e":1,"v":0.915},{"m":"CV-TDNN (4-4-4)","e":2,"v":0.564},{"m":"CV-TDNN (4-4-4)","e":3,"v":0.375},{"m":"CV-TDNN (4-4-4)","e":4,"v":0.338},{"m":"CV-TDNN (4-4-4)","e":5,"v":0.31},{"m":"CV-TDNN (4-4-4)","e":6,"v":0.296},{"m":"CV-TDNN (4-4-4)","e":7,"v":0.28},{"m":"CV-TDNN (4-4-4)","e":8,"v":0.27},{"m":"CV-TDNN (4-4-4)","e":9,"v":0.265},{"m":"CV-TDNN (4-4-4)","e":10,"v":0.262},
{"m":"CV-TDNN (4-4-4)","e":11,"v":0.258},{"m":"CV-TDNN (4-4-4)","e":12,"v":0.254},{"m":"CV-TDNN (4-4-4)","e":13,"v":0.257},{"m":"CV-TDNN (4-4-4)","e":14,"v":0.264},{"m":"CV-TDNN (4-4-4)","e":15,"v":0.262},{"m":"CV-TDNN (4-4-4)","e":16,"v":0.263},{"m":"CV-TDNN (4-4-4)","e":17,"v":0.252},{"m":"CV-TDNN (4-4-4)","e":18,"v":0.25},{"m":"CV-TDNN (4-4-4)","e":19,"v":0.249},{"m":"CV-TDNN (4-4-4)","e":20,"v":0.249},
{"m":"CV-TDNN (4-4-4)","e":21,"v":0.248},{"m":"CV-TDNN (4-4-4)","e":22,"v":0.249},{"m":"CV-TDNN (4-4-4)","e":23,"v":0.248},{"m":"CV-TDNN (4-4-4)","e":24,"v":0.248},{"m":"CV-TDNN (4-4-4)","e":25,"v":0.249},{"m":"CV-TDNN (4-4-4)","e":26,"v":0.248},{"m":"CV-TDNN (4-4-4)","e":27,"v":0.249},{"m":"CV-TDNN (4-4-4)","e":28,"v":0.254},{"m":"CV-TDNN (4-4-4)","e":29,"v":0.248},{"m":"CV-TDNN (4-4-4)","e":30,"v":0.247},
{"m":"CV-TDNN (4-4-4)","e":31,"v":0.248},{"m":"CV-TDNN (4-4-4)","e":32,"v":0.247},{"m":"CV-TDNN (4-4-4)","e":33,"v":0.248},{"m":"CV-TDNN (4-4-4)","e":34,"v":0.247},{"m":"CV-TDNN (4-4-4)","e":35,"v":0.247},{"m":"CV-TDNN (4-4-4)","e":36,"v":0.248},{"m":"CV-TDNN (4-4-4)","e":37,"v":0.247},{"m":"CV-TDNN (4-4-4)","e":38,"v":0.246},{"m":"CV-TDNN (4-4-4)","e":39,"v":0.247},{"m":"CV-TDNN (4-4-4)","e":40,"v":0.247},
{"m":"CV-TDNN (4-4-4)","e":41,"v":0.246},{"m":"CV-TDNN (4-4-4)","e":42,"v":0.247},{"m":"CV-TDNN (4-4-4)","e":43,"v":0.246},{"m":"CV-TDNN (4-4-4)","e":44,"v":0.246},{"m":"CV-TDNN (4-4-4)","e":45,"v":0.247},{"m":"CV-TDNN (4-4-4)","e":46,"v":0.246},{"m":"CV-TDNN (4-4-4)","e":47,"v":0.246},{"m":"CV-TDNN (4-4-4)","e":48,"v":0.246},{"m":"CV-TDNN (4-4-4)","e":49,"v":0.245},{"m":"CV-TDNN (4-4-4)","e":50,"v":0.215},
{"m":"3HLNN (2-4-5)","e":1,"v":0.956},{"m":"3HLNN (2-4-5)","e":2,"v":0.812},{"m":"3HLNN (2-4-5)","e":3,"v":0.612},{"m":"3HLNN (2-4-5)","e":4,"v":0.477},{"m":"3HLNN (2-4-5)","e":5,"v":0.384},{"m":"3HLNN (2-4-5)","e":6,"v":0.334},{"m":"3HLNN (2-4-5)","e":7,"v":0.311},{"m":"3HLNN (2-4-5)","e":8,"v":0.3},{"m":"3HLNN (2-4-5)","e":9,"v":0.302},{"m":"3HLNN (2-4-5)","e":10,"v":0.289},
{"m":"3HLNN (2-4-5)","e":11,"v":0.27},{"m":"3HLNN (2-4-5)","e":12,"v":0.26},{"m":"3HLNN (2-4-5)","e":13,"v":0.254},{"m":"3HLNN (2-4-5)","e":14,"v":0.251},{"m":"3HLNN (2-4-5)","e":15,"v":0.249},{"m":"3HLNN (2-4-5)","e":16,"v":0.248},{"m":"3HLNN (2-4-5)","e":17,"v":0.248},{"m":"3HLNN (2-4-5)","e":18,"v":0.247},{"m":"3HLNN (2-4-5)","e":19,"v":0.247},{"m":"3HLNN (2-4-5)","e":20,"v":0.247},
{"m":"3HLNN (2-4-5)","e":21,"v":0.246},{"m":"3HLNN (2-4-5)","e":22,"v":0.247},{"m":"3HLNN (2-4-5)","e":23,"v":0.246},{"m":"3HLNN (2-4-5)","e":24,"v":0.246},{"m":"3HLNN (2-4-5)","e":25,"v":0.247},{"m":"3HLNN (2-4-5)","e":26,"v":0.246},{"m":"3HLNN (2-4-5)","e":27,"v":0.246},{"m":"3HLNN (2-4-5)","e":28,"v":0.245},{"m":"3HLNN (2-4-5)","e":29,"v":0.246},{"m":"3HLNN (2-4-5)","e":30,"v":0.246},
{"m":"3HLNN (2-4-5)","e":31,"v":0.245},{"m":"3HLNN (2-4-5)","e":32,"v":0.246},{"m":"3HLNN (2-4-5)","e":33,"v":0.245},{"m":"3HLNN (2-4-5)","e":34,"v":0.245},{"m":"3HLNN (2-4-5)","e":35,"v":0.246},{"m":"3HLNN (2-4-5)","e":36,"v":0.245},{"m":"3HLNN (2-4-5)","e":37,"v":0.245},{"m":"3HLNN (2-4-5)","e":38,"v":0.244},{"m":"3HLNN (2-4-5)","e":39,"v":0.245},{"m":"3HLNN (2-4-5)","e":40,"v":0.245},
{"m":"3HLNN (2-4-5)","e":41,"v":0.244},{"m":"3HLNN (2-4-5)","e":42,"v":0.245},{"m":"3HLNN (2-4-5)","e":43,"v":0.244},{"m":"3HLNN (2-4-5)","e":44,"v":0.244},{"m":"3HLNN (2-4-5)","e":45,"v":0.245},{"m":"3HLNN (2-4-5)","e":46,"v":0.244},{"m":"3HLNN (2-4-5)","e":47,"v":0.244},{"m":"3HLNN (2-4-5)","e":48,"v":0.244},{"m":"3HLNN (2-4-5)","e":49,"v":0.243},{"m":"3HLNN (2-4-5)","e":50,"v":0.212},
{"m":"DN-3HLNN (2-4-5)","e":1,"v":0.938},{"m":"DN-3HLNN (2-4-5)","e":2,"v":0.68},{"m":"DN-3HLNN (2-4-5)","e":3,"v":0.49},{"m":"DN-3HLNN (2-4-5)","e":4,"v":0.33},{"m":"DN-3HLNN (2-4-5)","e":5,"v":0.3},{"m":"DN-3HLNN (2-4-5)","e":6,"v":0.275},{"m":"DN-3HLNN (2-4-5)","e":7,"v":0.262},{"m":"DN-3HLNN (2-4-5)","e":8,"v":0.257},{"m":"DN-3HLNN (2-4-5)","e":9,"v":0.255},{"m":"DN-3HLNN (2-4-5)","e":10,"v":0.253},
{"m":"DN-3HLNN (2-4-5)","e":11,"v":0.251},{"m":"DN-3HLNN (2-4-5)","e":12,"v":0.249},{"m":"DN-3HLNN (2-4-5)","e":13,"v":0.248},{"m":"DN-3HLNN (2-4-5)","e":14,"v":0.247},{"m":"DN-3HLNN (2-4-5)","e":15,"v":0.247},{"m":"DN-3HLNN (2-4-5)","e":16,"v":0.246},{"m":"DN-3HLNN (2-4-5)","e":17,"v":0.246},{"m":"DN-3HLNN (2-4-5)","e":18,"v":0.246},{"m":"DN-3HLNN (2-4-5)","e":19,"v":0.246},{"m":"DN-3HLNN (2-4-5)","e":20,"v":0.247},
{"m":"DN-3HLNN (2-4-5)","e":21,"v":0.246},{"m":"DN-3HLNN (2-4-5)","e":22,"v":0.245},{"m":"DN-3HLNN (2-4-5)","e":23,"v":0.246},{"m":"DN-3HLNN (2-4-5)","e":24,"v":0.245},{"m":"DN-3HLNN (2-4-5)","e":25,"v":0.246},{"m":"DN-3HLNN (2-4-5)","e":26,"v":0.245},{"m":"DN-3HLNN (2-4-5)","e":27,"v":0.245},{"m":"DN-3HLNN (2-4-5)","e":28,"v":0.246},{"m":"DN-3HLNN (2-4-5)","e":29,"v":0.245},{"m":"DN-3HLNN (2-4-5)","e":30,"v":0.245},
{"m":"DN-3HLNN (2-4-5)","e":31,"v":0.245},{"m":"DN-3HLNN (2-4-5)","e":32,"v":0.244},{"m":"DN-3HLNN (2-4-5)","e":33,"v":0.245},{"m":"DN-3HLNN (2-4-5)","e":34,"v":0.245},{"m":"DN-3HLNN (2-4-5)","e":35,"v":0.244},{"m":"DN-3HLNN (2-4-5)","e":36,"v":0.245},{"m":"DN-3HLNN (2-4-5)","e":37,"v":0.244},{"m":"DN-3HLNN (2-4-5)","e":38,"v":0.244},{"m":"DN-3HLNN (2-4-5)","e":39,"v":0.245},{"m":"DN-3HLNN (2-4-5)","e":40,"v":0.244},
{"m":"DN-3HLNN (2-4-5)","e":41,"v":0.244},{"m":"DN-3HLNN (2-4-5)","e":42,"v":0.244},{"m":"DN-3HLNN (2-4-5)","e":43,"v":0.244},{"m":"DN-3HLNN (2-4-5)","e":44,"v":0.243},{"m":"DN-3HLNN (2-4-5)","e":45,"v":0.244},{"m":"DN-3HLNN (2-4-5)","e":46,"v":0.244},{"m":"DN-3HLNN (2-4-5)","e":47,"v":0.243},{"m":"DN-3HLNN (2-4-5)","e":48,"v":0.244},{"m":"DN-3HLNN (2-4-5)","e":49,"v":0.243},{"m":"DN-3HLNN (2-4-5)","e":50,"v":0.218},
{"m":"LWGS (9)","e":1,"v":0.976},{"m":"LWGS (9)","e":2,"v":0.703},{"m":"LWGS (9)","e":3,"v":0.54},{"m":"LWGS (9)","e":4,"v":0.41},{"m":"LWGS (9)","e":5,"v":0.33},{"m":"LWGS (9)","e":6,"v":0.3},{"m":"LWGS (9)","e":7,"v":0.285},{"m":"LWGS (9)","e":8,"v":0.275},{"m":"LWGS (9)","e":9,"v":0.27},{"m":"LWGS (9)","e":10,"v":0.265},
{"m":"LWGS (9)","e":11,"v":0.26},{"m":"LWGS (9)","e":12,"v":0.257},{"m":"LWGS (9)","e":13,"v":0.255},{"m":"LWGS (9)","e":14,"v":0.253},{"m":"LWGS (9)","e":15,"v":0.252},{"m":"LWGS (9)","e":16,"v":0.251},{"m":"LWGS (9)","e":17,"v":0.25},{"m":"LWGS (9)","e":18,"v":0.25},{"m":"LWGS (9)","e":19,"v":0.25},{"m":"LWGS (9)","e":20,"v":0.25},
{"m":"LWGS (9)","e":21,"v":0.25},{"m":"LWGS (9)","e":22,"v":0.251},{"m":"LWGS (9)","e":23,"v":0.25},{"m":"LWGS (9)","e":24,"v":0.25},{"m":"LWGS (9)","e":25,"v":0.251},{"m":"LWGS (9)","e":26,"v":0.25},{"m":"LWGS (9)","e":27,"v":0.25},{"m":"LWGS (9)","e":28,"v":0.25},{"m":"LWGS (9)","e":29,"v":0.249},{"m":"LWGS (9)","e":30,"v":0.25},
{"m":"LWGS (9)","e":31,"v":0.249},{"m":"LWGS (9)","e":32,"v":0.25},{"m":"LWGS (9)","e":33,"v":0.249},{"m":"LWGS (9)","e":34,"v":0.249},{"m":"LWGS (9)","e":35,"v":0.25},{"m":"LWGS (9)","e":36,"v":0.249},{"m":"LWGS (9)","e":37,"v":0.249},{"m":"LWGS (9)","e":38,"v":0.249},{"m":"LWGS (9)","e":39,"v":0.248},{"m":"LWGS (9)","e":40,"v":0.249},
{"m":"LWGS (9)","e":41,"v":0.248},{"m":"LWGS (9)","e":42,"v":0.249},{"m":"LWGS (9)","e":43,"v":0.248},{"m":"LWGS (9)","e":44,"v":0.248},{"m":"LWGS (9)","e":45,"v":0.248},{"m":"LWGS (9)","e":46,"v":0.249},{"m":"LWGS (9)","e":47,"v":0.248},{"m":"LWGS (9)","e":48,"v":0.247},{"m":"LWGS (9)","e":49,"v":0.248},{"m":"LWGS (9)","e":50,"v":0.22},
{"m":"MWGS (12,5)","e":1,"v":0.965},{"m":"MWGS (12,5)","e":2,"v":0.75},{"m":"MWGS (12,5)","e":3,"v":0.55},{"m":"MWGS (12,5)","e":4,"v":0.39},{"m":"MWGS (12,5)","e":5,"v":0.32},{"m":"MWGS (12,5)","e":6,"v":0.295},{"m":"MWGS (12,5)","e":7,"v":0.28},{"m":"MWGS (12,5)","e":8,"v":0.272},{"m":"MWGS (12,5)","e":9,"v":0.265},{"m":"MWGS (12,5)","e":10,"v":0.262},
{"m":"MWGS (12,5)","e":11,"v":0.258},{"m":"MWGS (12,5)","e":12,"v":0.255},{"m":"MWGS (12,5)","e":13,"v":0.253},{"m":"MWGS (12,5)","e":14,"v":0.252},{"m":"MWGS (12,5)","e":15,"v":0.251},{"m":"MWGS (12,5)","e":16,"v":0.25},{"m":"MWGS (12,5)","e":17,"v":0.25},{"m":"MWGS (12,5)","e":18,"v":0.25},{"m":"MWGS (12,5)","e":19,"v":0.249},{"m":"MWGS (12,5)","e":20,"v":0.25},
{"m":"MWGS (12,5)","e":21,"v":0.249},{"m":"MWGS (12,5)","e":22,"v":0.25},{"m":"MWGS (12,5)","e":23,"v":0.249},{"m":"MWGS (12,5)","e":24,"v":0.249},{"m":"MWGS (12,5)","e":25,"v":0.25},{"m":"MWGS (12,5)","e":26,"v":0.249},{"m":"MWGS (12,5)","e":27,"v":0.249},{"m":"MWGS (12,5)","e":28,"v":0.25},{"m":"MWGS (12,5)","e":29,"v":0.249},{"m":"MWGS (12,5)","e":30,"v":0.249},
{"m":"MWGS (12,5)","e":31,"v":0.248},{"m":"MWGS (12,5)","e":32,"v":0.249},{"m":"MWGS (12,5)","e":33,"v":0.249},{"m":"MWGS (12,5)","e":34,"v":0.248},{"m":"MWGS (12,5)","e":35,"v":0.249},{"m":"MWGS (12,5)","e":36,"v":0.248},{"m":"MWGS (12,5)","e":37,"v":0.248},{"m":"MWGS (12,5)","e":38,"v":0.249},{"m":"MWGS (12,5)","e":39,"v":0.248},{"m":"MWGS (12,5)","e":40,"v":0.248},
{"m":"MWGS (12,5)","e":41,"v":0.248},{"m":"MWGS (12,5)","e":42,"v":0.247},{"m":"MWGS (12,5)","e":43,"v":0.248},{"m":"MWGS (12,5)","e":44,"v":0.248},{"m":"MWGS (12,5)","e":45,"v":0.247},{"m":"MWGS (12,5)","e":46,"v":0.248},{"m":"MWGS (12,5)","e":47,"v":0.247},{"m":"MWGS (12,5)","e":48,"v":0.247},{"m":"MWGS (12,5)","e":49,"v":0.247},{"m":"MWGS (12,5)","e":50,"v":0.222},
{"m":"HCRNN","e":1,"v":0.654},{"m":"HCRNN","e":2,"v":0.369},{"m":"HCRNN","e":3,"v":0.32},{"m":"HCRNN","e":4,"v":0.298},{"m":"HCRNN","e":5,"v":0.278},{"m":"HCRNN","e":6,"v":0.257},{"m":"HCRNN","e":7,"v":0.24},{"m":"HCRNN","e":8,"v":0.24},{"m":"HCRNN","e":9,"v":0.242},{"m":"HCRNN","e":10,"v":0.24},
{"m":"HCRNN","e":11,"v":0.238},{"m":"HCRNN","e":12,"v":0.232},{"m":"HCRNN","e":13,"v":0.232},{"m":"HCRNN","e":14,"v":0.233},{"m":"HCRNN","e":15,"v":0.232},{"m":"HCRNN","e":16,"v":0.232},{"m":"HCRNN","e":17,"v":0.233},{"m":"HCRNN","e":18,"v":0.232},{"m":"HCRNN","e":19,"v":0.232},{"m":"HCRNN","e":20,"v":0.233},
{"m":"HCRNN","e":21,"v":0.232},{"m":"HCRNN","e":22,"v":0.233},{"m":"HCRNN","e":23,"v":0.232},{"m":"HCRNN","e":24,"v":0.232},{"m":"HCRNN","e":25,"v":0.233},{"m":"HCRNN","e":26,"v":0.231},{"m":"HCRNN","e":27,"v":0.232},{"m":"HCRNN","e":28,"v":0.232},{"m":"HCRNN","e":29,"v":0.231},{"m":"HCRNN","e":30,"v":0.228},
{"m":"HCRNN","e":31,"v":0.232},{"m":"HCRNN","e":32,"v":0.231},{"m":"HCRNN","e":33,"v":0.232},{"m":"HCRNN","e":34,"v":0.231},{"m":"HCRNN","e":35,"v":0.232},{"m":"HCRNN","e":36,"v":0.225},{"m":"HCRNN","e":37,"v":0.231},{"m":"HCRNN","e":38,"v":0.232},{"m":"HCRNN","e":39,"v":0.231},{"m":"HCRNN","e":40,"v":0.231},
{"m":"HCRNN","e":41,"v":0.232},{"m":"HCRNN","e":42,"v":0.221},{"m":"HCRNN","e":43,"v":0.231},{"m":"HCRNN","e":44,"v":0.231},{"m":"HCRNN","e":45,"v":0.232},{"m":"HCRNN","e":46,"v":0.231},{"m":"HCRNN","e":47,"v":0.23},{"m":"HCRNN","e":48,"v":0.231},{"m":"HCRNN","e":49,"v":0.231},{"m":"HCRNN","e":50,"v":0.224},
{"m":"HCRDNN 1","e":1,"v":0.874},{"m":"HCRDNN 1","e":2,"v":0.627},{"m":"HCRDNN 1","e":3,"v":0.508},{"m":"HCRDNN 1","e":4,"v":0.44},{"m":"HCRDNN 1","e":5,"v":0.41},{"m":"HCRDNN 1","e":6,"v":0.384},{"m":"HCRDNN 1","e":7,"v":0.354},{"m":"HCRDNN 1","e":8,"v":0.333},{"m":"HCRDNN 1","e":9,"v":0.33},{"m":"HCRDNN 1","e":10,"v":0.293},
{"m":"HCRDNN 1","e":11,"v":0.289},{"m":"HCRDNN 1","e":12,"v":0.273},{"m":"HCRDNN 1","e":13,"v":0.262},{"m":"HCRDNN 1","e":14,"v":0.255},{"m":"HCRDNN 1","e":15,"v":0.25},{"m":"HCRDNN 1","e":16,"v":0.247},{"m":"HCRDNN 1","e":17,"v":0.245},{"m":"HCRDNN 1","e":18,"v":0.243},{"m":"HCRDNN 1","e":19,"v":0.242},{"m":"HCRDNN 1","e":20,"v":0.241},
{"m":"HCRDNN 1","e":21,"v":0.24},{"m":"HCRDNN 1","e":22,"v":0.24},{"m":"HCRDNN 1","e":23,"v":0.239},{"m":"HCRDNN 1","e":24,"v":0.239},{"m":"HCRDNN 1","e":25,"v":0.239},{"m":"HCRDNN 1","e":26,"v":0.238},{"m":"HCRDNN 1","e":27,"v":0.238},{"m":"HCRDNN 1","e":28,"v":0.239},{"m":"HCRDNN 1","e":29,"v":0.238},{"m":"HCRDNN 1","e":30,"v":0.238},
{"m":"HCRDNN 1","e":31,"v":0.238},{"m":"HCRDNN 1","e":32,"v":0.237},{"m":"HCRDNN 1","e":33,"v":0.238},{"m":"HCRDNN 1","e":34,"v":0.237},{"m":"HCRDNN 1","e":35,"v":0.238},{"m":"HCRDNN 1","e":36,"v":0.237},{"m":"HCRDNN 1","e":37,"v":0.237},{"m":"HCRDNN 1","e":38,"v":0.238},{"m":"HCRDNN 1","e":39,"v":0.237},{"m":"HCRDNN 1","e":40,"v":0.237},
{"m":"HCRDNN 1","e":41,"v":0.236},{"m":"HCRDNN 1","e":42,"v":0.237},{"m":"HCRDNN 1","e":43,"v":0.237},{"m":"HCRDNN 1","e":44,"v":0.236},{"m":"HCRDNN 1","e":45,"v":0.237},{"m":"HCRDNN 1","e":46,"v":0.236},{"m":"HCRDNN 1","e":47,"v":0.236},{"m":"HCRDNN 1","e":48,"v":0.237},{"m":"HCRDNN 1","e":49,"v":0.236},{"m":"HCRDNN 1","e":50,"v":0.226},
{"m":"HCRDNN 2","e":1,"v":0.84},{"m":"HCRDNN 2","e":2,"v":0.577},{"m":"HCRDNN 2","e":3,"v":0.433},{"m":"HCRDNN 2","e":4,"v":0.36},{"m":"HCRDNN 2","e":5,"v":0.33},{"m":"HCRDNN 2","e":6,"v":0.3},{"m":"HCRDNN 2","e":7,"v":0.29},{"m":"HCRDNN 2","e":8,"v":0.283},{"m":"HCRDNN 2","e":9,"v":0.275},{"m":"HCRDNN 2","e":10,"v":0.265},
{"m":"HCRDNN 2","e":11,"v":0.258},{"m":"HCRDNN 2","e":12,"v":0.252},{"m":"HCRDNN 2","e":13,"v":0.248},{"m":"HCRDNN 2","e":14,"v":0.245},{"m":"HCRDNN 2","e":15,"v":0.243},{"m":"HCRDNN 2","e":16,"v":0.242},{"m":"HCRDNN 2","e":17,"v":0.241},{"m":"HCRDNN 2","e":18,"v":0.24},{"m":"HCRDNN 2","e":19,"v":0.239},{"m":"HCRDNN 2","e":20,"v":0.239},
{"m":"HCRDNN 2","e":21,"v":0.238},{"m":"HCRDNN 2","e":22,"v":0.238},{"m":"HCRDNN 2","e":23,"v":0.237},{"m":"HCRDNN 2","e":24,"v":0.238},{"m":"HCRDNN 2","e":25,"v":0.237},{"m":"HCRDNN 2","e":26,"v":0.237},{"m":"HCRDNN 2","e":27,"v":0.236},{"m":"HCRDNN 2","e":28,"v":0.237},{"m":"HCRDNN 2","e":29,"v":0.236},{"m":"HCRDNN 2","e":30,"v":0.236},
{"m":"HCRDNN 2","e":31,"v":0.236},{"m":"HCRDNN 2","e":32,"v":0.235},{"m":"HCRDNN 2","e":33,"v":0.236},{"m":"HCRDNN 2","e":34,"v":0.235},{"m":"HCRDNN 2","e":35,"v":0.236},{"m":"HCRDNN 2","e":36,"v":0.235},{"m":"HCRDNN 2","e":37,"v":0.235},{"m":"HCRDNN 2","e":38,"v":0.236},{"m":"HCRDNN 2","e":39,"v":0.235},{"m":"HCRDNN 2","e":40,"v":0.235},
{"m":"HCRDNN 2","e":41,"v":0.234},{"m":"HCRDNN 2","e":42,"v":0.235},{"m":"HCRDNN 2","e":43,"v":0.235},{"m":"HCRDNN 2","e":44,"v":0.234},{"m":"HCRDNN 2","e":45,"v":0.235},{"m":"HCRDNN 2","e":46,"v":0.234},{"m":"HCRDNN 2","e":47,"v":0.234},{"m":"HCRDNN 2","e":48,"v":0.235},{"m":"HCRDNN 2","e":49,"v":0.234},{"m":"HCRDNN 2","e":50,"v":0.225}
]
},
"hconcat":[
{
"width":439,"height":384,
"title":{"text":"(a) Training phase.","orient":"bottom","anchor":"middle","frame":"bounds","font":"Liberation Serif","fontSize":28,"fontWeight":"normal","color":"#000","offset":20},
"data":{"name":"train"},
"encoding":{
"x":{"field":"e","type":"quantitative","scale":{"domain":[0,50],"nice":false},"axis":{"title":"epochs","values":[0,10,20,30,40,50],"format":"d","labelFlush":false,"labelPadding":16,"titlePadding":11}},
"y":{"field":"v","type":"quantitative","scale":{"domain":[0.15,1],"nice":false,"zero":false},"axis":{"title":"MSE","values":[0.2,0.4,0.6,0.8,1],"format":"~g","labelPadding":8,"titlePadding":7}},
"color":{"field":"m","type":"nominal","scale":{"domain":["CV-TDNN (7)","2HLNN (2-7)","DN-2HLNN (2-6)","DN-2HLNN (2-7)","CV-TDNN (4-4-4)","3HLNN (2-4-5)","DN-3HLNN (2-4-5)","LWGS (9)","MWGS (12,5)","HCRNN","HCRDNN 1","HCRDNN 2"],"range":["#ff0000","#0000ff","#000000","#000000","#ff0000","#0000ff","#000000","#ff00ff","#ff00ff","#2f6a10","#2f6a10","#2f6a10"]},
"legend":{"offset":9,
"encode":{"symbols":{"update":{
"shape":{"signal":"({'CV-TDNN (7)':'M-1.375,0H1.375M-0.3,-0.26H0.3L0,0.26Z','2HLNN (2-7)':'M-1.375,0H1.375M-0.26,-0.3L0.26,0L-0.26,0.3Z','DN-2HLNN (2-6)':'M-1.375,0H1.375M0,-0.3L0.22,0L0,0.3L-0.22,0Z','DN-2HLNN (2-7)':'M-1.375,0H1.375M0,-0.3L0.067,-0.093L0.285,-0.093L0.109,0.035L0.176,0.243L0,0.115L-0.176,0.243L-0.109,0.035L-0.285,-0.093L-0.067,-0.093Z','CV-TDNN (4-4-4)':'M-1.375,0H1.375M-0.3,0.26H0.3L0,-0.26Z','3HLNN (2-4-5)':'M-1.375,0H1.375M0.26,-0.3L-0.26,0L0.26,0.3Z','DN-3HLNN (2-4-5)':'M-1.375,0H1.375M-0.18,-0.18H0.18V0.18H-0.18Z','LWGS (9)':'M-1.375,0H1.375M-0.2,-0.2L0.2,0.2M-0.2,0.2L0.2,-0.2','MWGS (12,5)':'M-1.375,0H1.375M0,-0.25V0.25','HCRNN':'M-1.375,0H1.375M0,-0.3L0.067,-0.093L0.285,-0.093L0.109,0.035L0.176,0.243L0,0.115L-0.176,0.243L-0.109,0.035L-0.285,-0.093L-0.067,-0.093Z','HCRDNN 1':'M-1.375,0H1.375M0.2,0A0.2,0.2,0,1,1,-0.2,0A0.2,0.2,0,1,1,0.2,0Z','HCRDNN 2':'M-1.375,0H1.375M0,-0.3L0.087,-0.15L0.26,-0.15L0.173,0L0.26,0.15L0.087,0.15L0,0.3L-0.087,0.15L-0.26,0.15L-0.173,0L-0.26,-0.15L-0.087,-0.15Z'})[datum.value]"},
"fill":{"signal":"({'CV-TDNN (7)':'#ff0000','2HLNN (2-7)':'#0000ff','DN-2HLNN (2-6)':'#000000','DN-2HLNN (2-7)':'#000000','CV-TDNN (4-4-4)':'#ff0000','3HLNN (2-4-5)':'#0000ff','DN-3HLNN (2-4-5)':'#000000','LWGS (9)':'#ff00ff','MWGS (12,5)':'#ff00ff','HCRNN':'#2f6a10','HCRDNN 1':'#2f6a10','HCRDNN 2':'#2f6a10'})[datum.value]"},
"stroke":{"signal":"({'CV-TDNN (7)':'#ff0000','2HLNN (2-7)':'#0000ff','DN-2HLNN (2-6)':'#000000','DN-2HLNN (2-7)':'#000000','CV-TDNN (4-4-4)':'#ff0000','3HLNN (2-4-5)':'#0000ff','DN-3HLNN (2-4-5)':'#000000','LWGS (9)':'#ff00ff','MWGS (12,5)':'#ff00ff','HCRNN':'#2f6a10','HCRDNN 1':'#2f6a10','HCRDNN 2':'#2f6a10'})[datum.value]"},
"strokeWidth":{"value":1.2},
"opacity":{"value":1}
}}}}
}
},
"layer":[
{"mark":{"type":"line","strokeWidth":1,"clip":true}},
{"mark":{"type":"point","filled":false,"size":60,"strokeWidth":1,"opacity":1,"clip":true},
"encoding":{
"fill":{"field":"m","type":"nominal","legend":null,"scale":{"domain":["CV-TDNN (7)","2HLNN (2-7)","DN-2HLNN (2-6)","DN-2HLNN (2-7)","CV-TDNN (4-4-4)","3HLNN (2-4-5)","DN-3HLNN (2-4-5)","LWGS (9)","MWGS (12,5)","HCRNN","HCRDNN 1","HCRDNN 2"],"range":["#ff0000","#0000ff","#000000","#000000","#ff0000","#0000ff","#000000","#ff00ff","#ff00ff","#2f6a10","#2f6a10","#2f6a10"]}},
"shape":{"field":"m","type":"nominal","legend":null,"scale":{"domain":["HCRDNN 2","HCRDNN 1","HCRNN","MWGS (12,5)","LWGS (9)","DN-3HLNN (2-4-5)","3HLNN (2-4-5)","CV-TDNN (4-4-4)","DN-2HLNN (2-7)","DN-2HLNN (2-6)","2HLNN (2-7)","CV-TDNN (7)"],"range":["M0,-1L0.289,-0.5L0.866,-0.5L0.577,0L0.866,0.5L0.289,0.5L0,1L-0.289,0.5L-0.866,0.5L-0.577,0L-0.866,-0.5L-0.289,-0.5Z","circle","M0,-1L0.2245,-0.309L0.951,-0.309L0.363,0.118L0.588,0.809L0,0.382L-0.588,0.809L-0.363,0.118L-0.951,-0.309L-0.2245,-0.309Z","M-1,0H1M0,-1V1","M-0.7,-0.7L0.7,0.7M-0.7,0.7L0.7,-0.7","square","triangle-left","triangle-up","M0,-1L0.2245,-0.309L0.951,-0.309L0.363,0.118L0.588,0.809L0,0.382L-0.588,0.809L-0.363,0.118L-0.951,-0.309L-0.2245,-0.309Z","diamond","triangle-right","triangle-down"]}}
}}
]
},
{
"width":434,"height":384,
"title":{"text":"(b) Testing phase.","orient":"bottom","anchor":"middle","frame":"bounds","font":"Liberation Serif","fontSize":28,"fontWeight":"normal","color":"#000","offset":20},
"data":{"name":"test"},
"encoding":{
"x":{"field":"e","type":"quantitative","scale":{"domain":[0,50],"nice":false},"axis":{"title":"epochs","values":[0,10,20,30,40,50],"format":"d","labelFlush":false,"labelPadding":16,"titlePadding":11}},
"y":{"field":"v","type":"quantitative","scale":{"domain":[0.15,1.0224],"nice":false,"zero":false},"axis":{"title":"MSE","values":[0.2,0.4,0.6,0.8,1],"format":"~g","labelPadding":8,"titlePadding":7}},
"color":{"field":"m","type":"nominal","scale":{"domain":["CV-TDNN (7)","2HLNN (2-7)","DN-2HLNN (2-6)","DN-2HLNN (2-7)","CV-TDNN (4-4-4)","3HLNN (2-4-5)","DN-3HLNN (2-4-5)","LWGS (9)","MWGS (12,5)","HCRNN","HCRDNN 1","HCRDNN 2"],"range":["#ff0000","#0000ff","#000000","#000000","#ff0000","#0000ff","#000000","#ff00ff","#ff00ff","#2f6a10","#2f6a10","#2f6a10"]},
"legend":{"offset":9,
"encode":{"symbols":{"update":{
"shape":{"signal":"({'CV-TDNN (7)':'M-1.375,0H1.375M-0.3,-0.26H0.3L0,0.26Z','2HLNN (2-7)':'M-1.375,0H1.375M-0.26,-0.3L0.26,0L-0.26,0.3Z','DN-2HLNN (2-6)':'M-1.375,0H1.375M0,-0.3L0.22,0L0,0.3L-0.22,0Z','DN-2HLNN (2-7)':'M-1.375,0H1.375M0,-0.3L0.067,-0.093L0.285,-0.093L0.109,0.035L0.176,0.243L0,0.115L-0.176,0.243L-0.109,0.035L-0.285,-0.093L-0.067,-0.093Z','CV-TDNN (4-4-4)':'M-1.375,0H1.375M-0.3,0.26H0.3L0,-0.26Z','3HLNN (2-4-5)':'M-1.375,0H1.375M0.26,-0.3L-0.26,0L0.26,0.3Z','DN-3HLNN (2-4-5)':'M-1.375,0H1.375M-0.18,-0.18H0.18V0.18H-0.18Z','LWGS (9)':'M-1.375,0H1.375M-0.2,-0.2L0.2,0.2M-0.2,0.2L0.2,-0.2','MWGS (12,5)':'M-1.375,0H1.375M0,-0.25V0.25','HCRNN':'M-1.375,0H1.375M0,-0.3L0.067,-0.093L0.285,-0.093L0.109,0.035L0.176,0.243L0,0.115L-0.176,0.243L-0.109,0.035L-0.285,-0.093L-0.067,-0.093Z','HCRDNN 1':'M-1.375,0H1.375M0.2,0A0.2,0.2,0,1,1,-0.2,0A0.2,0.2,0,1,1,0.2,0Z','HCRDNN 2':'M-1.375,0H1.375M0,-0.3L0.087,-0.15L0.26,-0.15L0.173,0L0.26,0.15L0.087,0.15L0,0.3L-0.087,0.15L-0.26,0.15L-0.173,0L-0.26,-0.15L-0.087,-0.15Z'})[datum.value]"},
"fill":{"signal":"({'CV-TDNN (7)':'#ff0000','2HLNN (2-7)':'#0000ff','DN-2HLNN (2-6)':'#000000','DN-2HLNN (2-7)':'#000000','CV-TDNN (4-4-4)':'#ff0000','3HLNN (2-4-5)':'#0000ff','DN-3HLNN (2-4-5)':'#000000','LWGS (9)':'#ff00ff','MWGS (12,5)':'#ff00ff','HCRNN':'#2f6a10','HCRDNN 1':'#2f6a10','HCRDNN 2':'#2f6a10'})[datum.value]"},
"stroke":{"signal":"({'CV-TDNN (7)':'#ff0000','2HLNN (2-7)':'#0000ff','DN-2HLNN (2-6)':'#000000','DN-2HLNN (2-7)':'#000000','CV-TDNN (4-4-4)':'#ff0000','3HLNN (2-4-5)':'#0000ff','DN-3HLNN (2-4-5)':'#000000','LWGS (9)':'#ff00ff','MWGS (12,5)':'#ff00ff','HCRNN':'#2f6a10','HCRDNN 1':'#2f6a10','HCRDNN 2':'#2f6a10'})[datum.value]"},
"strokeWidth":{"value":1.2},
"opacity":{"value":1}
}}}}
}
},
"layer":[
{"mark":{"type":"line","strokeWidth":1,"clip":true}},
{"mark":{"type":"point","filled":false,"size":60,"strokeWidth":1,"opacity":1,"clip":true},
"encoding":{
"fill":{"field":"m","type":"nominal","legend":null,"scale":{"domain":["CV-TDNN (7)","2HLNN (2-7)","DN-2HLNN (2-6)","DN-2HLNN (2-7)","CV-TDNN (4-4-4)","3HLNN (2-4-5)","DN-3HLNN (2-4-5)","LWGS (9)","MWGS (12,5)","HCRNN","HCRDNN 1","HCRDNN 2"],"range":["#ff0000","#0000ff","#000000","#000000","#ff0000","#0000ff","#000000","#ff00ff","#ff00ff","#2f6a10","#2f6a10","#2f6a10"]}},
"shape":{"field":"m","type":"nominal","legend":null,"scale":{"domain":["HCRDNN 2","HCRDNN 1","HCRNN","MWGS (12,5)","LWGS (9)","DN-3HLNN (2-4-5)","3HLNN (2-4-5)","CV-TDNN (4-4-4)","DN-2HLNN (2-7)","DN-2HLNN (2-6)","2HLNN (2-7)","CV-TDNN (7)"],"range":["M0,-1L0.289,-0.5L0.866,-0.5L0.577,0L0.866,0.5L0.289,0.5L0,1L-0.289,0.5L-0.866,0.5L-0.577,0L-0.866,-0.5L-0.289,-0.5Z","circle","M0,-1L0.2245,-0.309L0.951,-0.309L0.363,0.118L0.588,0.809L0,0.382L-0.588,0.809L-0.363,0.118L-0.951,-0.309L-0.2245,-0.309Z","M-1,0H1M0,-1V1","M-0.7,-0.7L0.7,0.7M-0.7,0.7L0.7,-0.7","square","triangle-left","triangle-up","M0,-1L0.2245,-0.309L0.951,-0.309L0.363,0.118L0.588,0.809L0,0.382L-0.588,0.809L-0.363,0.118L-0.951,-0.309L-0.2245,-0.309Z","diamond","triangle-right","triangle-down"]}}
}}
]
}
],
"spacing":39,
"align":"none",
"resolve":{"scale":{"color":"independent","fill":"independent","shape":"independent"},"legend":{"color":"independent"}}
}
